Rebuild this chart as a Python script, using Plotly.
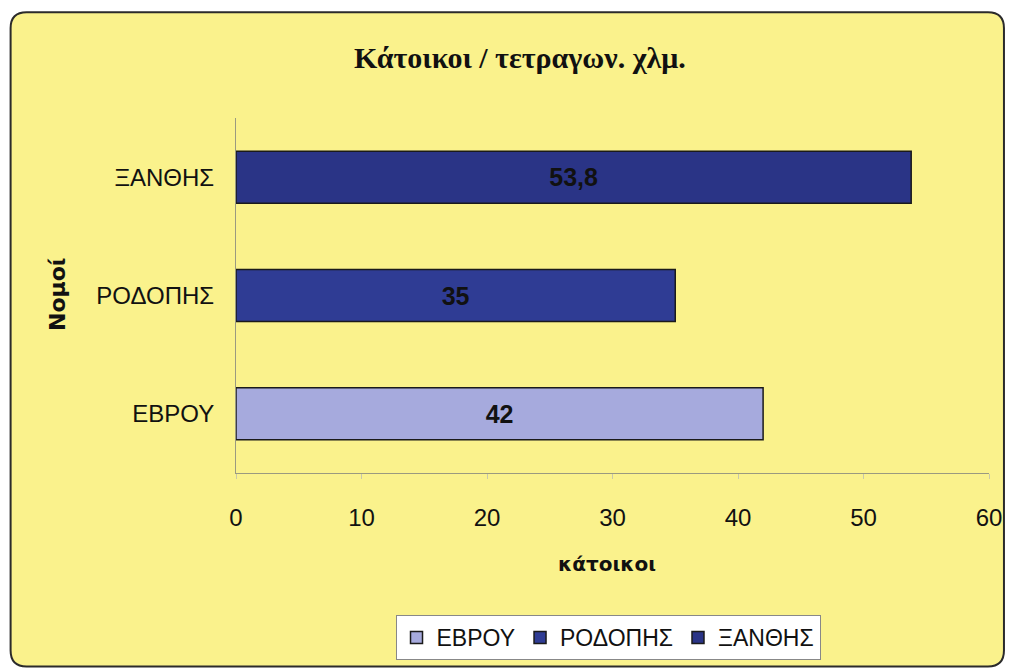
import plotly.graph_objects as go

# data
nomoi = ['ΕΒΡΟΥ', 'ΡΟΔΟΠΗΣ', 'ΞΑΝΘΗΣ']
katoikoi = [42, 35, 53.8]
labels = ['42', '35', '53,8']
colors = ['#A6AADD', '#2F3C94', '#2A3486']

W, H = 1014, 672
L, R, T, B = 236, 23, 118, 198
pw, ph = W - L - R, H - T - B


def px(x):
    return (x - L) / pw


def py(y):
    return (H - B - y) / ph


def rounded_rect(x0, y0, x1, y1, r):
    return (f'M {px(x0 + r)} {py(y0)} L {px(x1 - r)} {py(y0)} '
            f'Q {px(x1)} {py(y0)} {px(x1)} {py(y0 + r)} '
            f'L {px(x1)} {py(y1 - r)} Q {px(x1)} {py(y1)} {px(x1 - r)} {py(y1)} '
            f'L {px(x0 + r)} {py(y1)} Q {px(x0)} {py(y1)} {px(x0)} {py(y1 - r)} '
            f'L {px(x0)} {py(y0 + r)} Q {px(x0)} {py(y0)} {px(x0 + r)} {py(y0)} Z')


fig = go.Figure()
for name, val, lab, col in zip(nomoi, katoikoi, labels, colors):
    fig.add_trace(go.Bar(
        y=[name], x=[val], name=name, orientation='h',
        marker=dict(color=col, line=dict(color='#1a1a1a', width=1.5)),
        width=0.44, text=['<b>' + lab + '</b>'], textposition='inside',
        insidetextanchor='middle',
        textfont=dict(family='Liberation Sans, Arial', size=25, color='#111111'),
        hoverinfo='x+y'
    ))

fig.update_layout(
    width=W, height=H,
    paper_bgcolor='white', plot_bgcolor='rgba(0,0,0,0)',
    margin=dict(l=L, r=R, t=T, b=B),
    barmode='overlay',
    showlegend=True,
    legend=dict(orientation='h', x=px(609), y=py(639), xanchor='center', yanchor='middle',
                bgcolor='white', bordercolor='#888888', borderwidth=1,
                font=dict(family='Liberation Sans, Arial', size=23, color='#111111'),
                itemwidth=30, traceorder='normal'),
    font=dict(family='Liberation Sans, Arial', size=24, color='#111111'),
    shapes=[dict(type='path', xref='paper', yref='paper', layer='below',
                 path=rounded_rect(10, 12, 1006, 668, 16),
                 fillcolor='#FAF28C', line=dict(color='#2b2b2b', width=2))],
    annotations=[
        dict(text='<b>Κάτοικοι / τετραγων. χλμ.</b>', xref='paper', yref='paper',
             x=px(521), y=py(57), xanchor='center', yanchor='middle', showarrow=False,
             font=dict(family='Liberation Serif, Times New Roman', size=30, color='#111111')),
        dict(text='<b>κάτοικοι</b>', xref='paper', yref='paper',
             x=px(608), y=py(565), xanchor='center', yanchor='middle', showarrow=False,
             font=dict(family='DejaVu Sans, Verdana', size=20, color='#111111')),
        dict(text='<b>Νομοί</b>', xref='paper', yref='paper', textangle=-90,
             x=px(57), y=py(295), xanchor='center', yanchor='middle', showarrow=False,
             font=dict(family='DejaVu Sans, Verdana', size=22, color='#111111')),
    ],
)

fig.update_xaxes(range=[0, 60], dtick=10, showgrid=False, zeroline=False,
                 showline=True, linecolor='#9a9a80', linewidth=1,
                 ticks='outside', ticklen=5, tickcolor='#c8c8a8', ticklabelstandoff=18)
fig.update_yaxes(categoryorder='array', categoryarray=nomoi, showgrid=False,
                 showline=True, linecolor='#9a9a80', linewidth=1,
                 ticks='', ticklabelstandoff=16)

fig.write_html('out.html', config={'displayModeBar': False},
               post_script="document.body.style.margin='0';document.body.style.overflow='hidden';")
